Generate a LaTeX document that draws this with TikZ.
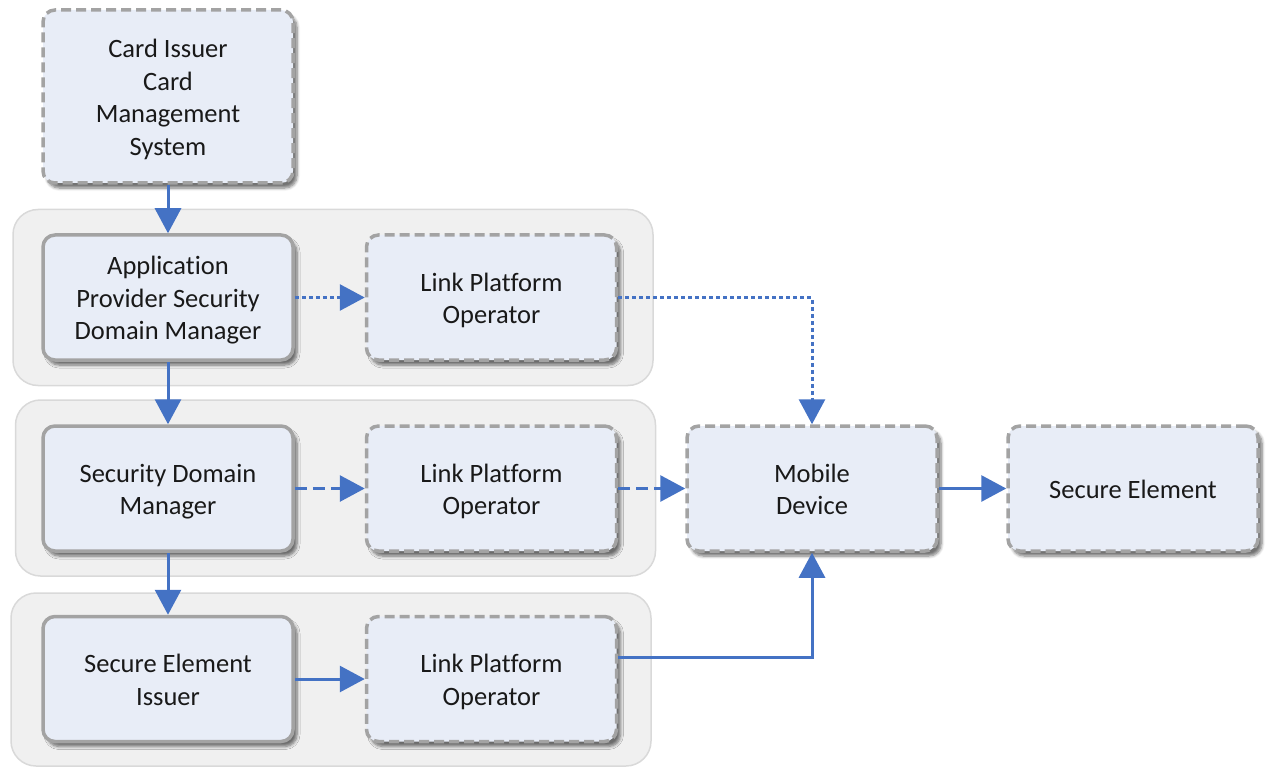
\documentclass[tikz,border=0pt]{standalone}
\usepackage{fontspec}
\setmainfont{Carlito}[Ligatures=NoCommon]
\usetikzlibrary{arrows.meta,shadows.blur}
\definecolor{boxfill}{HTML}{E8EDF7}
\definecolor{boxline}{HTML}{A3A3A3}
\definecolor{panelfill}{HTML}{F0F0F0}
\definecolor{panelline}{HTML}{D9D9D9}
\definecolor{flow}{HTML}{4472C4}
% centred stack of lines; extra room on top sets it a little below the box centre
\newcommand\boxtext[1]{\raisebox{0pt}[\dimexpr\height+7pt\relax]{\begin{tabular}{@{}c@{}}#1\end{tabular}}}
\tikzset{
  unit/.style={draw=boxline, line width=3.5pt, fill=boxfill, rounded corners=12pt,
    minimum width=250pt, minimum height=125pt, inner sep=0pt,
    font=\fontsize{26.5}{32.5}\selectfont, text=black!90,
    blur shadow={shadow xshift=4pt, shadow yshift=-5pt, shadow blur steps=6,
      shadow blur radius=3pt, shadow opacity=55}},
  extunit/.style={unit, dash pattern=on 10pt off 5pt},
  panel/.style={draw=panelline, line width=1.5pt, fill=panelfill,
    rounded corners=25pt, minimum width=640pt, minimum height=176pt, inner sep=0pt},
  flowline/.style={draw=flow, line width=3pt, -{Triangle[length=25pt,width=26pt]}},
  dotline/.style={flowline, dash pattern=on 4pt off 3pt},
  dashline/.style={flowline, dash pattern=on 12pt off 6pt}
}
\begin{document}
\begin{tikzpicture}[x=1pt, y=-1pt]
\useasboundingbox (0,0) rectangle (1271,767);
% grouping panels
\node[panel] (p1) at (333,297.5) {};
\node[panel] (p2) at (335.5,488) {};
\node[panel, minimum height=173pt] (p3) at (331,679.5) {};
% boxes
\node[extunit, minimum height=173pt] (cms) at (168,96.5) {\boxtext{Card Issuer\\Card\\Management\\System}};
\node[unit] (apsdm) at (168,297.5) {\boxtext{Application\\Provider Security\\Domain Manager}};
\node[extunit] (lpo1) at (491.5,297.5) {\boxtext{Link Platform\\Operator}};
\node[unit] (sdm) at (168,488.5) {\boxtext{Security Domain\\Manager}};
\node[extunit] (lpo2) at (491.5,488.5) {\boxtext{Link Platform\\Operator}};
\node[unit] (sei) at (168,679) {\boxtext{Secure Element\\Issuer}};
\node[extunit] (lpo3) at (491.5,679) {\boxtext{Link Platform\\Operator}};
\node[extunit] (mob) at (812,488.5) {\boxtext{Mobile\\Device}};
\node[extunit] (se) at (1133,488.5) {\boxtext{Secure Element}};
% connectors
\draw[flowline] (cms) -- (apsdm);
\draw[flowline] (apsdm) -- (sdm);
\draw[flowline] (sdm) -- (sei);
\draw[dotline] (apsdm) -- (lpo1);
\draw[dotline] (lpo1.east) -| (mob.north);
\draw[dashline] (sdm) -- (lpo2);
\draw[dashline] (lpo2) -- (mob);
\draw[flowline] (sei) -- (lpo3);
\draw[flowline] ([yshift=22pt]lpo3.east) -| (mob.south);
\draw[flowline] (mob) -- (se);
\end{tikzpicture}
\end{document}
